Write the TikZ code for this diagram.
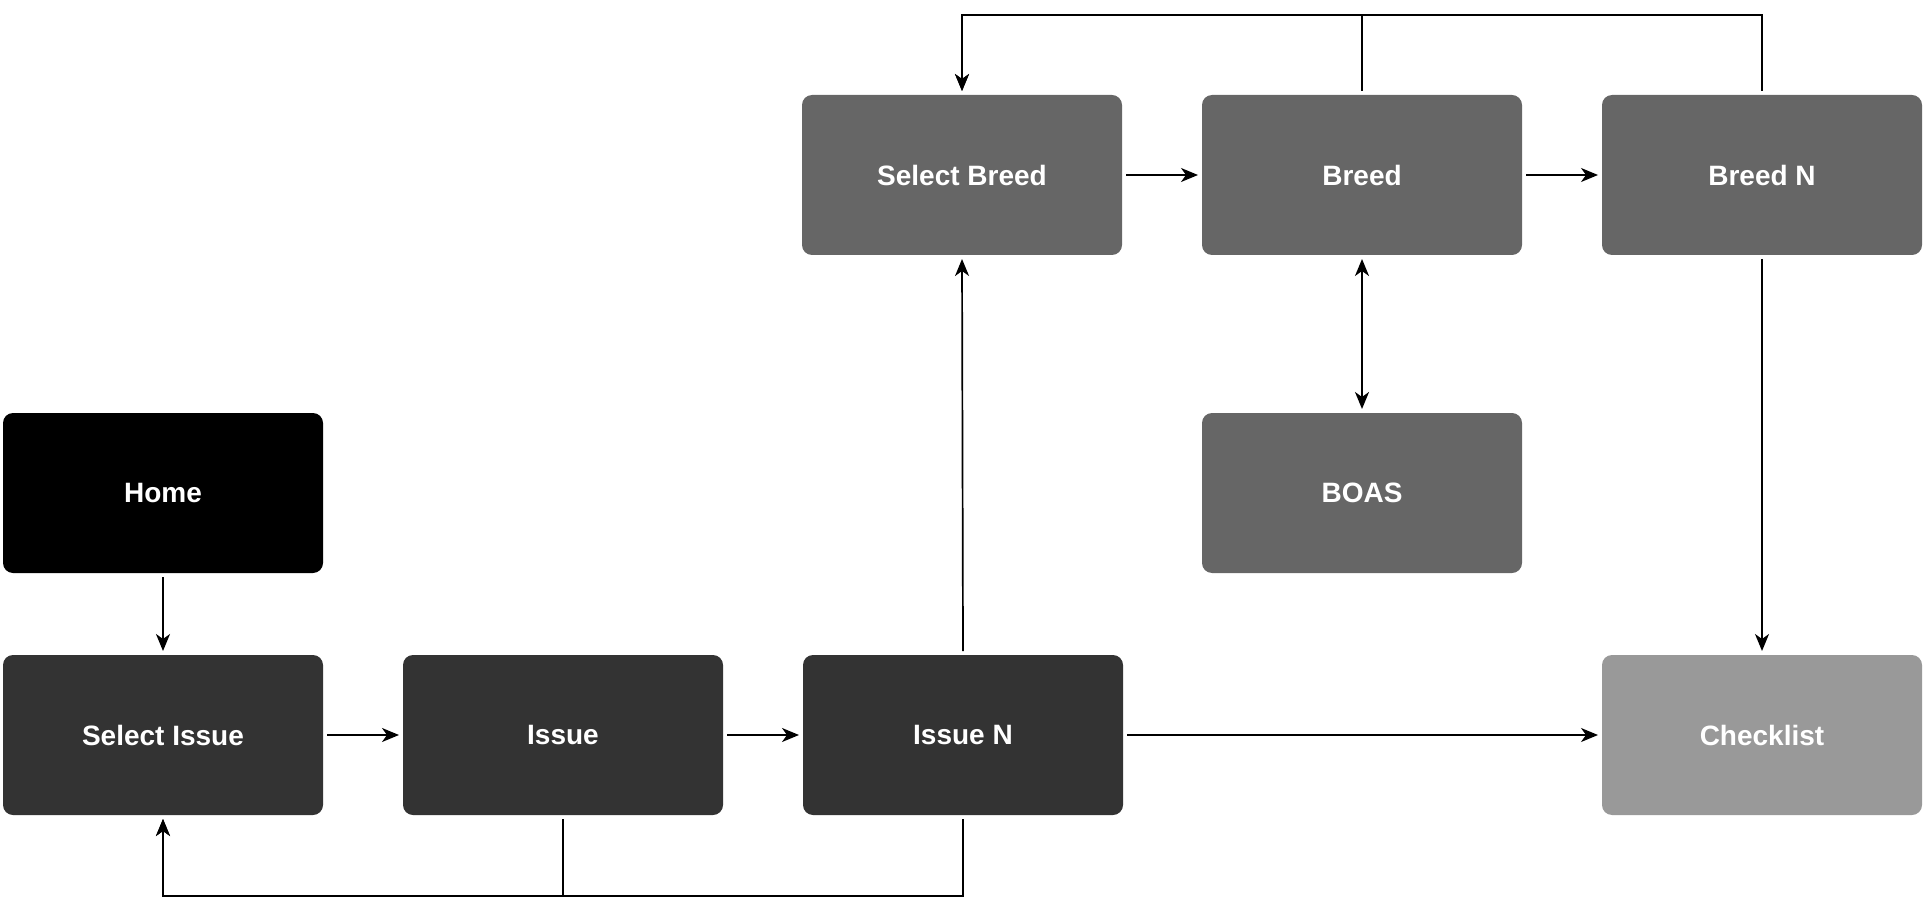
\documentclass[tikz,border=0pt]{standalone}
\usepackage{fontspec}
\setmainfont{Liberation Sans}
\usepackage{tikz}
\usepackage{xcolor}
\usetikzlibrary{arrows.meta, positioning}
\definecolor{homeblack}{HTML}{000000}
\definecolor{issuegray}{HTML}{333333}
\definecolor{breedgray}{HTML}{666666}
\definecolor{checkgray}{HTML}{999999}

\begin{document}
\begin{tikzpicture}[
    x=0.5pt, y=-0.5pt,
    every node/.style={font=\fontsize{14}{16}\selectfont\bfseries},
    screen/.style={rectangle, rounded corners=5pt, minimum width=160pt, minimum height=80pt, align=center, text=white, outer sep=2pt},
    arrow/.style={-{Stealth[length=8.5pt, width=7pt, inset=2.5pt]}, line width=0.85pt},
    both/.style={{Stealth[length=8.5pt, width=7pt, inset=2.5pt]}-{Stealth[length=8.5pt, width=7pt, inset=2.5pt]}, line width=0.85pt}
]
\useasboundingbox (0,0) rectangle (1926,914);

% Issue row
\node[screen, fill=homeblack] (home) at (163, 493) {Home};
\node[screen, fill=issuegray] (selissue) at (163, 735) {Select Issue};
\node[screen, fill=issuegray] (issue) at (563, 735) {Issue};
\node[screen, fill=issuegray] (issueN) at (963, 735) {Issue N};
\node[screen, fill=checkgray] (checklist) at (1762, 735) {Checklist};

% Breed row
\node[screen, fill=breedgray] (selbreed) at (962, 175) {Select Breed};
\node[screen, fill=breedgray] (breed) at (1362, 175) {Breed};
\node[screen, fill=breedgray] (breedN) at (1762, 175) {Breed N};
\node[screen, fill=breedgray] (boas) at (1362, 493) {BOAS};

% Arrows
\draw[arrow] (home.south) -- (selissue.north);
\draw[arrow] (selissue.east) -- (issue.west);
\draw[arrow] (issue.east) -- (issueN.west);
\draw[arrow] (issueN.east) -- (checklist.west);
\draw[arrow] (issueN.north) -- (selbreed.south);
\draw[arrow] (selbreed.east) -- (breed.west);
\draw[arrow] (breed.east) -- (breedN.west);
\draw[arrow] (breedN.south) -- (checklist.north);
\draw[both] (breed.south) -- (boas.north);

% Back loops
\foreach \s in {issue, issueN} {
    \draw[arrow] (\s.south) -- ++(0,77) -| (selissue.south);
}
\foreach \s in {breed, breedN} {
    \draw[arrow] (\s.north) -- ++(0,-76) -| (selbreed.north);
}

\end{tikzpicture}
\end{document}
